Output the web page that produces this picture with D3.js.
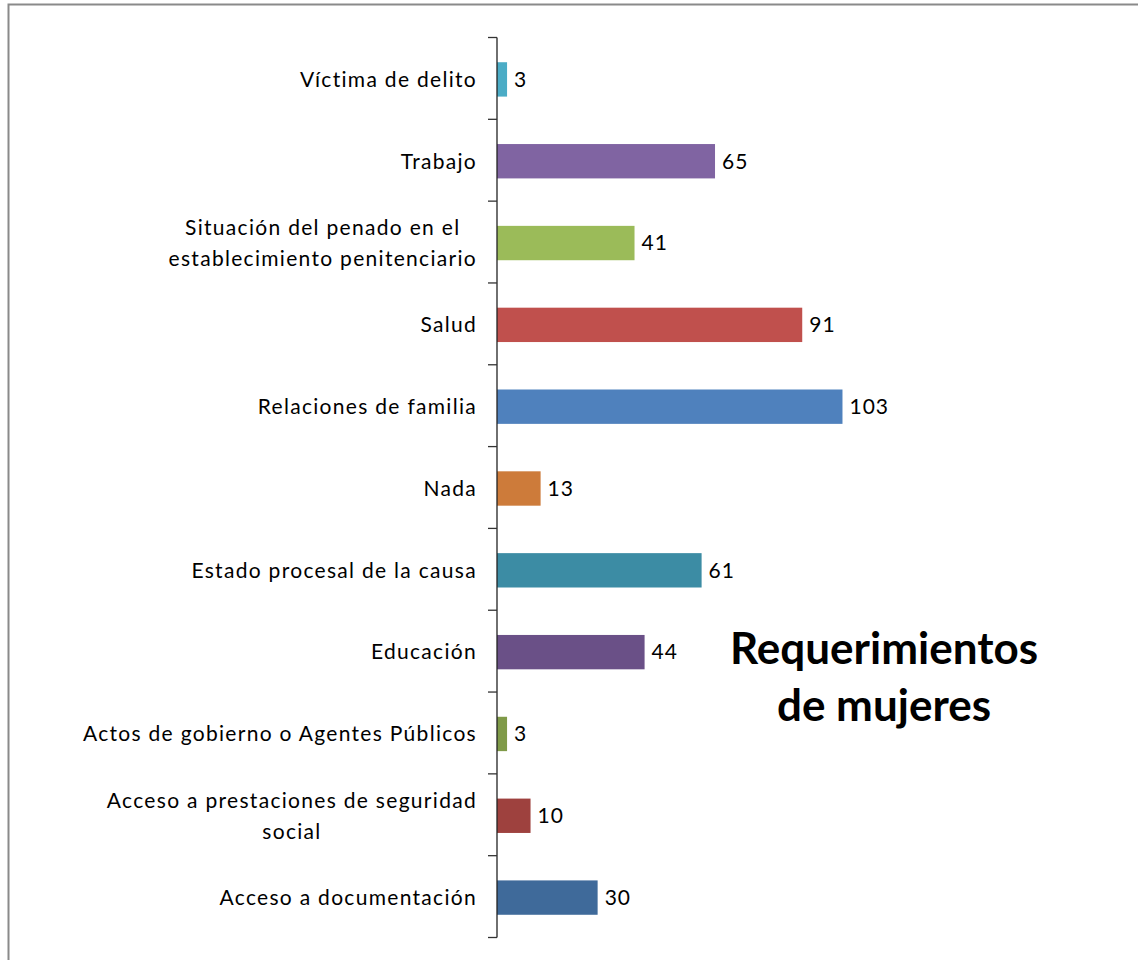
<!DOCTYPE html>
<html>
<head>
  <meta charset="utf-8">
  <title>Requerimientos de mujeres</title>
  <style>
    body { margin: 0; background: #fff; }
    .cat text { font: 21px Lato, sans-serif; fill: #000; }
    .value { font: 21px Lato, sans-serif; fill: #000; }
    .title { font: bold 44px Lato, sans-serif; fill: #000; }
  </style>
</head>
<body>
  <div id="chart"></div>

  <script src="https://cdn.jsdelivr.net/npm/d3@7"></script>
  <script>
    // top to bottom, as shown
    var categories = [
      "Víctima de delito",
      "Trabajo",
      "Situación del penado en el|establecimiento penitenciario",
      "Salud",
      "Relaciones de familia",
      "Nada",
      "Estado procesal de la causa",
      "Educación",
      "Actos de gobierno o Agentes Públicos",
      "Acceso a prestaciones de seguridad|social",
      "Acceso a documentación"
    ];
    var values = [3, 65, 41, 91, 103, 13, 61, 44, 3, 10, 30];
    var colors = ["#4bacc6", "#8064a2", "#9bbb59", "#c0504d", "#4f81bd", "#cd7b3a",
                  "#3c8ca4", "#6a5087", "#7f9a48", "#9e413e", "#3f6a9a"];
    var titleLines = ["Requerimientos", "de mujeres"];

    var width = 1138, height = 960;
    var axisX = 497;

    var svg = d3.select("#chart").append("svg")
      .attr("width", width)
      .attr("height", height);

    // outer frame (runs off the right and bottom edges)
    svg.append("rect")
      .attr("x", 8.5).attr("y", 4.5)
      .attr("width", 1140).attr("height", 970)
      .attr("fill", "none")
      .attr("stroke", "#8a8a8a")
      .attr("stroke-width", 2);

    var y = d3.scaleBand()
      .domain(d3.range(categories.length))
      .range([37.5, 937.5])
      .paddingInner(0.58)
      .paddingOuter(0.29);

    var x = d3.scaleLinear()
      .domain([0, 120])
      .range([axisX, axisX + 402.5]);

    // bars
    svg.selectAll("rect.bar")
      .data(values)
      .enter().append("rect")
      .attr("class", "bar")
      .attr("x", x(0))
      .attr("y", function(d, i) { return y(i) + 1; })
      .attr("width", function(d) { return x(d) - x(0); })
      .attr("height", y.bandwidth())
      .attr("fill", function(d, i) { return colors[i]; });

    // value labels
    svg.selectAll("text.value")
      .data(values)
      .enter().append("text")
      .attr("class", "value")
      .attr("x", function(d) { return x(d) + 7; })
      .attr("y", function(d, i) { return y(i) + 1 + y.bandwidth() / 2; })
      .attr("dy", "0.35em")
      .attr("letter-spacing", "1px")
      .text(function(d) { return d; });

    // category axis with ticks between categories
    var step = y.step();
    var tickYs = d3.range(categories.length + 1).map(function(i) { return 37.5 + i * step; });
    svg.append("line")
      .attr("x1", axisX).attr("x2", axisX)
      .attr("y1", 37.5).attr("y2", 937.5)
      .attr("stroke", "#222").attr("stroke-width", 1.3);
    svg.selectAll("line.tick")
      .data(tickYs)
      .enter().append("line")
      .attr("class", "tick")
      .attr("x1", axisX - 9).attr("x2", axisX)
      .attr("y1", function(d) { return d; })
      .attr("y2", function(d) { return d; })
      .attr("stroke", "#333").attr("stroke-width", 1.3);

    // category labels, multi-line ones centred as a block
    var cat = svg.selectAll("g.cat")
      .data(categories)
      .enter().append("g")
      .attr("class", "cat");

    cat.each(function(d, i) {
      var g = d3.select(this);
      var lines = d.split("|");
      var lh = 31;
      var cy = y(i) + 1 + y.bandwidth() / 2;
      var texts = lines.map(function(t, j) {
        return g.append("text")
          .attr("y", cy + (j - (lines.length - 1) / 2) * lh)
          .attr("dy", "0.35em")
          .attr("letter-spacing", "1.3px")
          .text(t);
      });
      var w = d3.max(texts, function(t) { return t.node().getComputedTextLength(); });
      var right = 477;
      texts.forEach(function(t) {
        if (lines.length > 1) {
          t.attr("x", right - w / 2).attr("text-anchor", "middle");
        } else {
          t.attr("x", right).attr("text-anchor", "end");
        }
      });
    });

    // title
    svg.selectAll("text.title")
      .data(titleLines)
      .enter().append("text")
      .attr("class", "title")
      .attr("x", 884)
      .attr("y", function(d, i) { return 664 + i * 57; })
      .attr("text-anchor", "middle")
      .text(function(d) { return d; });
  </script>
</body>
</html>
